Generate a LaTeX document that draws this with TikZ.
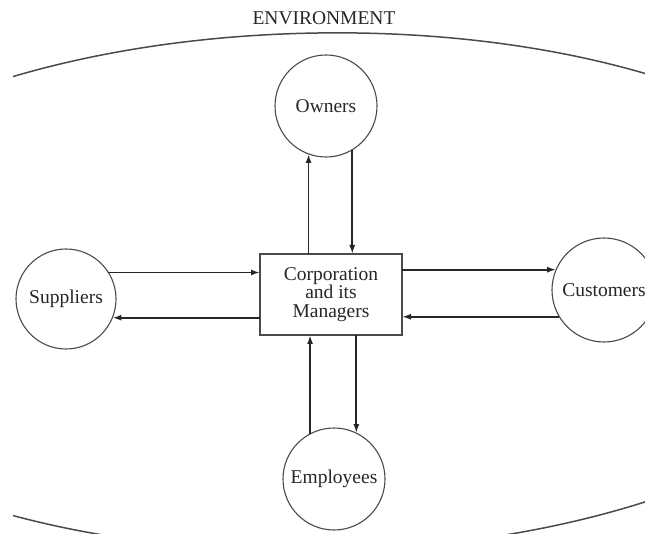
\documentclass[tikz,border=0pt]{standalone}
\usepackage{fontspec}
\setmainfont{Liberation Serif}
\usetikzlibrary{arrows.meta}
\definecolor{ink}{HTML}{262626}
\definecolor{rim}{HTML}{4A4A4A}
\begin{document}
\begin{tikzpicture}[x=1pt,y=-1pt,
  every node/.style={font=\fontsize{19.5}{18.5}\selectfont, text=ink},
  party/.style={circle, draw=rim, line width=1.1pt, inner sep=0pt, outer sep=0pt},
  corp/.style={rectangle, draw=rim, line width=1.1pt, inner sep=0pt, outer sep=0pt,
    minimum width=142pt, minimum height=81pt, align=center},
  flow/.style={draw=ink, line width=1.8pt, -{Latex[length=9pt,width=6pt]}},
  boundary/.style={draw=rim, line width=1.5pt}]
\useasboundingbox (0,0) rectangle (645,534);

% environment boundary: a large, slightly tilted ellipse cut by the frame
\begin{scope}
  \clip (13,0) rectangle (645,534);
  \path[boundary, rotate around={0.95:(320,292)}]
    (320,292) ellipse [x radius=578pt, y radius=259pt];
\end{scope}
\node (env) at (324,18.5) {ENVIRONMENT};

% the corporation and its stakeholders
\node[corp] (corp) at (331,294.5) {Corporation\\and its\\Managers};
\node[party, minimum size=102pt] (own) at (326,106) {Owners};
\node[party, minimum size=102pt] (emp) at (334,479) {Employees};
\node[party, minimum size=100pt] (sup) at (66,299) {Suppliers};
\node[party, minimum size=104pt] (cus) at (604,290) {Customers};

% owners
\draw[flow] (own.-110.7 |- corp.north) -- (own.-110.7);
\draw[flow] (own.-59.4) -- (own.-59.4 |- corp.north);
% employees
\draw[flow] (emp.118.1) -- (emp.118.1 |- corp.south);
\draw[flow] (emp.64.4 |- corp.south) -- (emp.64.4);
% suppliers
\draw[flow] (sup.32.7) -- (sup.32.7 -| corp.west);
\draw[flow] (sup.-22.3 -| corp.west) -- (sup.-22.3);
% customers
\draw[flow] (cus.157.4 -| corp.east) -- (cus.157.4);
\draw[flow] (cus.211.3) -- (cus.211.3 -| corp.east);
\end{tikzpicture}
\end{document}
